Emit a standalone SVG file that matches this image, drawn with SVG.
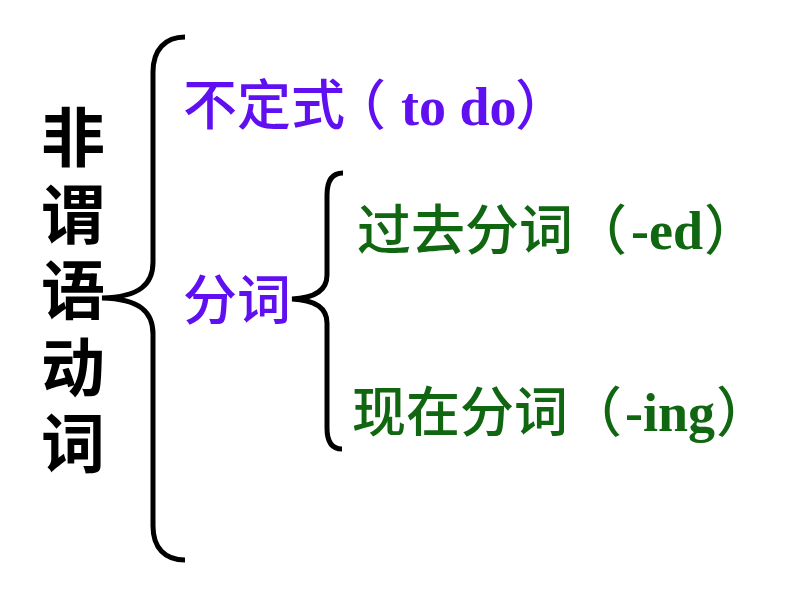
<svg xmlns="http://www.w3.org/2000/svg" width="794" height="596" viewBox="0 0 794 596">
<style>
.cjk{font-family:"Noto Sans CJK SC","Noto Sans CJK TC",sans-serif;}
.v{font-size:64px;font-weight:600;fill:#000;writing-mode:vertical-rl;letter-spacing:12.5px;}
.p{font-size:54px;font-weight:500;fill:#6010F0;}
.g{font-size:54px;font-weight:500;fill:#116611;}
.lat{font-family:"Liberation Serif","Times New Roman",serif;font-weight:700;}
.brace{fill:none;stroke:#000;stroke-width:5;stroke-linecap:butt;}
</style>
<rect width="794" height="596" fill="#fff"/>
<g id="root">
<text class="cjk v" x="73" y="105">非谓语动词</text>
</g>
<g id="connectors">
<path class="brace" d="M185,37 C165,37 153,50 153,72 L153,262 C153,284 140,297 102,298 C140,299 153,312 153,334 L153,526 C153,548 165,560 185,560"/>
<path class="brace" d="M343,173 C332,173 327,181 327,195 L327,275 C327,290 315,298 292,299 C315,300 327,308 327,323 L327,428 C327,442 332,449 342,449"/>
</g>
<g id="infinitive">
<text class="cjk p" x="183 237 291 332" y="125">不定式（</text>
<text class="lat p" x="401" y="125">to do</text>
<text class="cjk p" x="515" y="125">）</text>
</g>
<g id="participle">
<text class="cjk p" x="183" y="320">分词</text>
</g>
<g id="past">
<text class="cjk g" x="357" y="250">过去分词（<tspan class="lat" x="631" y="249">-ed</tspan><tspan x="704" y="250">）</tspan></text>
</g>
<g id="present">
<text class="cjk g" x="352" y="432">现在分词（<tspan class="lat" x="625" y="431">-ing</tspan><tspan x="716" y="432">）</tspan></text>
</g>
</svg>
